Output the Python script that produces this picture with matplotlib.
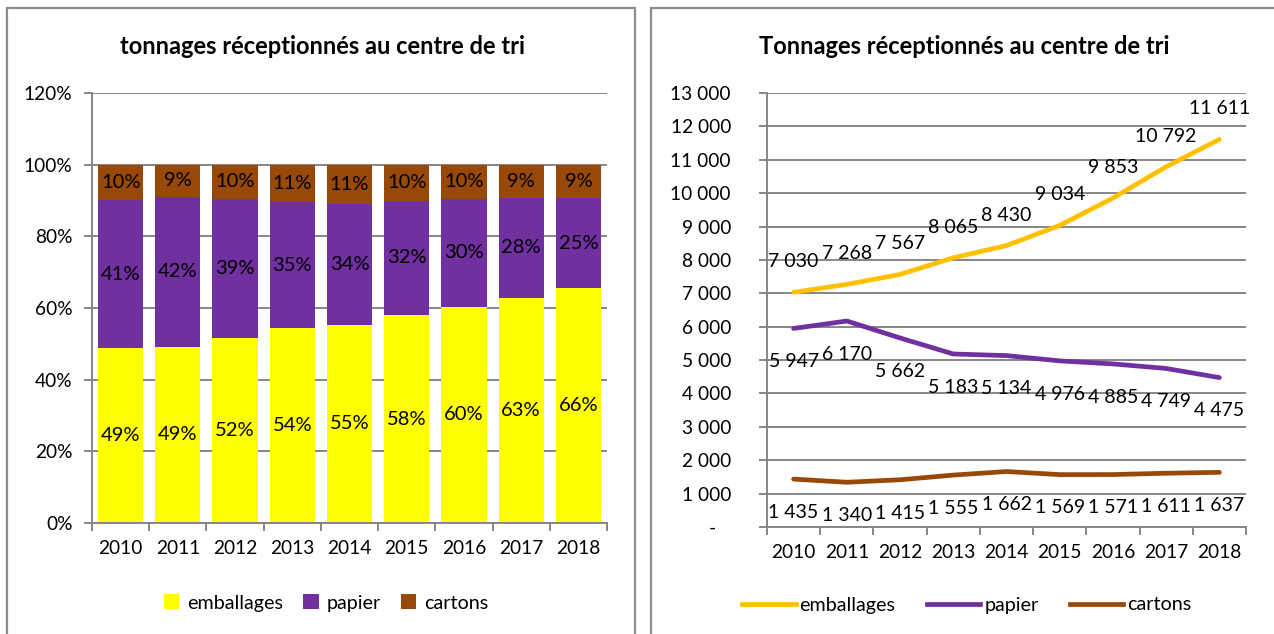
import numpy as np
import matplotlib
matplotlib.use("Agg")
import matplotlib.pyplot as plt
from matplotlib.patches import Rectangle
from matplotlib.lines import Line2D

plt.rcParams['font.family'] = ['Lato', 'DejaVu Sans']

years = ['2010', '2011', '2012', '2013', '2014', '2015', '2016', '2017', '2018']
emballages = [7030, 7268, 7567, 8065, 8430, 9034, 9853, 10792, 11611]
papier = [5947, 6170, 5662, 5183, 5134, 4976, 4885, 4749, 4475]
cartons = [1435, 1340, 1415, 1555, 1662, 1569, 1571, 1611, 1637]
names = ['emballages', 'papier', 'cartons']

bar_colors = ['#FFFF00', '#7030A0', '#984807']
line_colors = ['#FFC000', '#7030A0', '#984807']
grid_col = '#868686'

W, H = 1274, 634
fig = plt.figure(figsize=(W / 100, H / 100), dpi=100)


def px_axes(x0, y0, x1, y1):
    return fig.add_axes([x0 / W, 1 - y1 / H, (x1 - x0) / W, (y1 - y0) / H])


# panel frames
for x0, x1 in [(7, 635), (651, 1290)]:
    fig.add_artist(Rectangle((x0 / W, -0.05), (x1 - x0) / W, 1 - 8 / H + 0.05,
                             transform=fig.transFigure, fill=False,
                             edgecolor='#8c8c8c', lw=1.6))

tot = np.array(emballages) + np.array(papier) + np.array(cartons)
shares = [np.array(s) / tot * 100 for s in (emballages, papier, cartons)]
x = np.arange(len(years))


def style_axes(ax, ypad):
    ax.set_xlim(-0.5, len(years) - 0.5)
    ax.grid(axis='y', color=grid_col, lw=1.4)
    ax.set_axisbelow(True)
    for s in ('top', 'right'):
        ax.spines[s].set_visible(False)
    for s in ('left', 'bottom'):
        ax.spines[s].set_color(grid_col)
        ax.spines[s].set_linewidth(1.4)
    ax.set_xticks(x)
    ax.set_xticklabels(years, fontsize=13.8)
    ax.set_xticks(np.arange(-0.5, len(years)), minor=True)
    ax.tick_params(axis='x', which='major', length=0, pad=12)
    ax.tick_params(axis='x', which='minor', length=6, color=grid_col, width=1.4)
    ax.tick_params(axis='y', length=6, color=grid_col, width=1.4, labelsize=13.8, pad=ypad)


# left: stacked shares
ax1 = px_axes(92, 93, 607, 523)
bottom = np.zeros(len(years))
for s, c, n in zip(shares, bar_colors, names):
    bars = ax1.bar(x, s, 0.79, bottom=bottom, color=c, label=n)
    ax1.bar_label(bars, labels=[f"{v:.0f}%" for v in s], label_type='center', fontsize=14.5)
    bottom += s
ax1.set_ylim(0, 120)
ax1.set_yticks(range(0, 121, 20))
ax1.set_yticklabels([f"{v}%" for v in range(0, 121, 20)])
style_axes(ax1, 8)
fig.text(322 / W, 1 - 46 / H, 'tonnages réceptionnés au centre de tri', ha='center',
         va='center', fontsize=17, fontweight='bold')
ax1.legend(loc='center', bbox_to_anchor=(326 / W, 1 - 603 / H), bbox_transform=fig.transFigure,
           ncol=3, frameon=False, fontsize=14.2, handlelength=0.8, handleheight=0.8,
           handletextpad=0.4, columnspacing=1.0)


def fmt(v):
    return f"{v:,}".replace(",", " ")


# right: tonnages
ax2 = px_axes(767, 93, 1246, 527)
for s, c, n in zip((emballages, papier, cartons), line_colors, names):
    ax2.plot(x, s, color=c, lw=3.4, label=n, solid_capstyle='round')
for s, dy in ((emballages, 22), (papier, -24), (cartons, -24)):
    for xi, v in zip(x, s):
        ax2.annotate(fmt(v), (xi, v), xytext=(0, dy), textcoords='offset points',
                     ha='center', va='center', fontsize=14)
ax2.set_ylim(0, 13000)
ax2.set_yticks(range(0, 13001, 1000))
ax2.set_yticklabels(['-   '] + [fmt(v) for v in range(1000, 13001, 1000)])
style_axes(ax2, 20)
fig.text(964 / W, 1 - 46 / H, 'Tonnages réceptionnés au centre de tri', ha='center',
         va='center', fontsize=17, fontweight='bold')
handles = [Line2D([], [], color=c, lw=3.4) for c in line_colors]
ax2.legend(handles, names, loc='center', bbox_to_anchor=(967 / W, 1 - 605 / H),
           bbox_transform=fig.transFigure, ncol=3, frameon=False, fontsize=14.2,
           handlelength=2.7, handletextpad=0.2, columnspacing=1.6)

fig.savefig('out.png', dpi=100)
